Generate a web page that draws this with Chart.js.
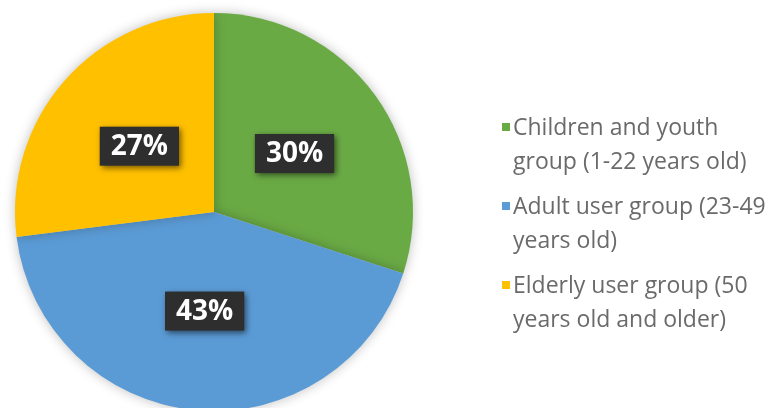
<!DOCTYPE html>
<html>
<head>
<meta charset="utf-8">
<script src="https://cdn.jsdelivr.net/npm/chart.js@4/dist/chart.umd.min.js"></script>
<style>
  html, body { margin: 0; padding: 0; background: #ffffff; overflow: hidden; }
  #wrap { position: relative; width: 769px; height: 408px; }
</style>
</head>
<body>
<div id="wrap"><canvas id="c" width="769" height="408"></canvas></div>
<script>
const categories = [
  ["Children and youth", "group (1-22 years old)"],
  ["Adult user group (23-49", "years old)"],
  ["Elderly user group (50", "years old and older)"]
];
const shares = [30, 43, 27];
const colors = ["#6AAA45", "#5B9BD5", "#FFC000"];

const shadowPlugin = {
  id: 'pieShadow',
  beforeDatasetDraw(chart) {
    const ctx = chart.ctx;
    ctx.save();
    ctx.shadowColor = 'rgba(0,0,0,0.25)';
    ctx.shadowBlur = 12;
  },
  afterDatasetDraw(chart) {
    chart.ctx.restore();
  }
};

const labelPlugin = {
  id: 'boxLabels',
  afterDatasetsDraw(chart) {
    const ctx = chart.ctx;
    const meta = chart.getDatasetMeta(0);
    const data = chart.data.datasets[0].data;
    ctx.save();
    ctx.font = 'bold 28px "Open Sans", sans-serif';
    ctx.textAlign = 'center';
    ctx.textBaseline = 'middle';
    meta.data.forEach((arc, i) => {
      const p = arc.getProps(['x', 'y', 'startAngle', 'endAngle', 'outerRadius']);
      const mid = (p.startAngle + p.endAngle) / 2;
      const r = p.outerRadius * 0.5;
      const cx = p.x + Math.cos(mid) * r;
      const cy = p.y + Math.sin(mid) * r;
      const txt = data[i] + '%';
      const w = ctx.measureText(txt).width + 22;
      const h = 39;
      ctx.save();
      ctx.shadowColor = 'rgba(0,0,0,0.55)';
      ctx.shadowBlur = 6;
      ctx.shadowOffsetX = 2;
      ctx.shadowOffsetY = 2;
      ctx.fillStyle = '#2E2E2E';
      ctx.fillRect(cx - w / 2, cy - h / 2, w, h);
      ctx.restore();
      ctx.fillStyle = '#FFFFFF';
      ctx.fillText(txt, cx, cy + 1);
    });
    ctx.restore();
  }
};

const legendPlugin = {
  id: 'sideLegend',
  afterDraw(chart) {
    const ctx = chart.ctx;
    const labels = chart.data.labels;
    const bg = chart.data.datasets[0].backgroundColor;
    ctx.save();
    ctx.font = '23px "Open Sans", sans-serif';
    ctx.textAlign = 'left';
    ctx.textBaseline = 'alphabetic';
    const x0 = 502, tx = 513;
    let y = 135;
    labels.forEach((lines, i) => {
      ctx.fillStyle = bg[i];
      ctx.fillRect(x0, y - 12, 8, 8);
      ctx.fillStyle = '#6A6A6A';
      lines.forEach((ln, j) => {
        ctx.fillText(ln, tx, y + j * 34);
      });
      y += 79;
    });
    ctx.restore();
  }
};

new Chart(document.getElementById('c'), {
  type: 'pie',
  data: {
    labels: categories,
    datasets: [{
      data: shares,
      backgroundColor: colors,
      borderWidth: 0,
      clip: false
    }]
  },
  options: {
    responsive: false,
    animation: false,
    radius: 199,
    layout: { padding: { left: 0, right: 341, top: 16, bottom: 0 } },
    plugins: {
      legend: { display: false },
      tooltip: { enabled: false }
    }
  },
  plugins: [shadowPlugin, labelPlugin, legendPlugin]
});
</script>
</body>
</html>
